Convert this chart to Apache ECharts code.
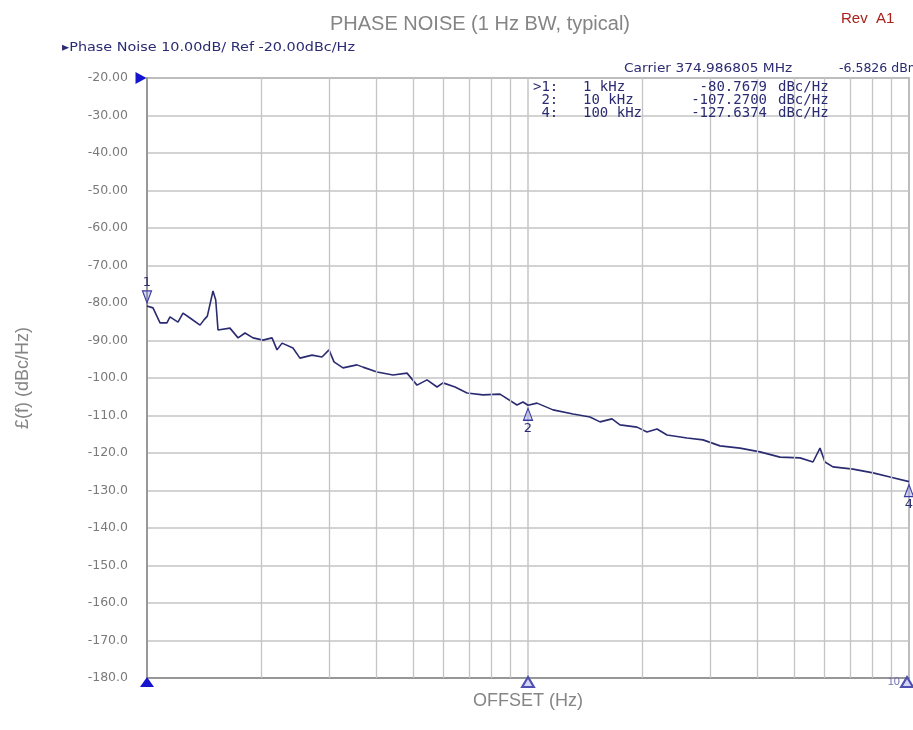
<!DOCTYPE html>
<html>
<head>
<meta charset="utf-8">
<title>Phase Noise</title>
<script src="https://cdn.jsdelivr.net/npm/echarts@6/dist/echarts.min.js"></script>
<style>
*{margin:0;padding:0;}
body{background:#fff;}
#chart{width:913px;height:730px;}
</style>
</head>
<body>
<div id="chart"></div>
<script>
var offsetHz = [1000, 1037, 1082, 1128, 1149, 1206, 1243, 1297, 1378, 1411, 1440, 1490, 1515, 1536,
  1651, 1734, 1808, 1898, 2016, 2129, 2194, 2262, 2416, 2520, 2711, 2879, 3004, 3096, 3269, 3557,
  3689, 4016, 4423, 4814, 5113, 5432, 5771, 5983, 6434, 6918, 7617, 8443, 9356, 9703, 10000,
  10559, 11632, 13127, 14544, 15453, 16613, 17435, 19323, 20527, 21807, 23170, 26146, 28800,
  31910, 36010, 40640, 45860, 51750, 55980, 58400, 60180, 63170, 71290, 80450, 89150, 100000];
var noise = [-80.77, -81.3, -85.3, -85.3, -83.7, -85.1, -82.7, -84.0, -85.9, -84.5, -83.5, -76.8, -79.2, -87.2,
  -86.7, -89.3, -88.0, -89.3, -89.9, -89.3, -92.5, -90.7, -92.0, -94.7, -93.9, -94.4, -92.5, -95.7, -97.3, -96.5,
  -97.1, -98.4, -99.2, -98.7, -101.9, -100.5, -102.4, -101.3, -102.4, -104.0, -104.5, -104.3, -107.2, -106.4, -107.27,
  -106.7, -108.5, -109.6, -110.4, -111.7, -110.9, -112.5, -113.1, -114.4, -113.6, -115.2, -116.0, -116.5,
  -118.1, -118.7, -119.7, -121.1, -121.3, -122.4, -118.7, -122.4, -123.7, -124.3, -125.3, -126.4, -127.64];

// markers shown on the trace
var markerNames = ['1', '2', '4'];
var markerHz = [1000, 10000, 100000];
var markerDb = [-80.7679, -107.2700, -127.6374];
var markerLabels = ['>1:', ' 2:', ' 4:'];
var markerFreqText = ['1 kHz', '10 kHz', '100 kHz'];

// minor grid lines of the log axis
var minorHz = [2000, 3000, 4000, 5000, 6000, 7000, 8000, 9000,
  20000, 30000, 40000, 50000, 60000, 70000, 80000, 90000];

var yTicks = {min: -180, max: -20, step: 10};

var navy = '#2b2b72';
var grey = '#7a7a7a';

var chart = echarts.init(document.getElementById('chart'));

var traceData = offsetHz.map(function (f, i) { return [f, noise[i]]; });

var markPts = [];
markerHz.forEach(function (f, i) {
  var first = i === 0;
  markPts.push({
    coord: [f, markerDb[i]],
    symbol: 'triangle',
    symbolSize: [9, 12],
    symbolRotate: first ? 180 : 0,
    symbolOffset: [0, first ? -9 : 9],
    itemStyle: {color: 'rgba(140,140,230,0.35)', borderColor: '#3a3aa0', borderWidth: 1.2},
    label: {show: true, formatter: markerNames[i], position: first ? 'top' : 'bottom',
      distance: 1, color: navy, fontSize: 13, fontFamily: 'DejaVu Sans'}
  });
});
// reference / scale indicators on the frame
markPts.push({coord: [1000, -20], symbol: 'triangle', symbolSize: [12, 11], symbolRotate: -90,
  symbolOffset: [-6, 0], itemStyle: {color: '#1515d0'}, label: {show: false}});
markPts.push({coord: [1000, -180], symbol: 'triangle', symbolSize: [14, 10],
  symbolOffset: [0, 4], itemStyle: {color: '#1515d0'}, label: {show: false}});
markPts.push({coord: [10000, -180], symbol: 'triangle', symbolSize: [12, 10],
  symbolOffset: [0, 4], itemStyle: {color: 'rgba(150,150,230,0.4)', borderColor: '#5050b0'}, label: {show: false}});
markPts.push({coord: [100000, -180], symbol: 'triangle', symbolSize: [12, 10],
  symbolOffset: [-2, 4], itemStyle: {color: 'rgba(150,150,230,0.4)', borderColor: '#5050b0'},
  label: {show: true, formatter: '10', position: 'left', distance: 0, color: '#7070b0', fontSize: 11}});

var graphics = [
  {type: 'text', left: 62, top: 41, z: 100, scaleX: 1.15, style: {text: '\u25B8Phase Noise 10.00dB/ Ref -20.00dBc/Hz',
    fill: navy, font: '12.5px "DejaVu Sans"'}},
  {type: 'text', left: 624, top: 62, z: 100, scaleX: 1.1, style: {text: 'Carrier 374.986805 MHz', fill: navy, font: '12.5px "DejaVu Sans"'}},
  {type: 'text', left: 839, top: 62, z: 100, style: {text: '-6.5826 dBm', fill: navy, font: '12.5px "DejaVu Sans"'}}
];
markerLabels.forEach(function (t, i) {
  var y = 80 + i * 13;
  var font = '14px "DejaVu Sans Mono"';
  graphics.push({type: 'text', left: 533, top: y, z: 100, style: {text: t, fill: navy, font: font}});
  graphics.push({type: 'text', left: 583, top: y, z: 100, style: {text: markerFreqText[i], fill: navy, font: font}});
  graphics.push({type: 'text', right: 146, top: y, z: 100, style: {text: markerDb[i].toFixed(4), fill: navy, font: font}});
  graphics.push({type: 'text', left: 778, top: y, z: 100, style: {text: 'dBc/Hz', fill: navy, font: font}});
});

var option = {
  animation: false,
  backgroundColor: '#fff',
  title: [
    {text: 'PHASE NOISE (1 Hz BW, typical)', left: 475, top: 9, textAlign: 'center',
      textStyle: {color: '#858585', fontSize: 20, fontWeight: 'normal', fontFamily: 'Liberation Sans'}},
    {text: 'Rev  A1', left: 836, top: 6,
      textStyle: {color: '#a8201a', fontSize: 15, fontWeight: 'normal', fontFamily: 'Liberation Sans'}}
  ],
  grid: {left: 147, right: 4, top: 78, bottom: 52, show: true, borderColor: '#8a8a8a', borderWidth: 1.5},
  xAxis: {
    type: 'log', logBase: 10, min: 1000, max: 100000,
    name: 'OFFSET (Hz)', nameLocation: 'middle', nameGap: 14,
    nameTextStyle: {color: '#858585', fontSize: 18, fontFamily: 'Liberation Sans'},
    axisLine: {show: true, lineStyle: {color: '#8a8a8a', width: 1.5}},
    axisTick: {show: false},
    axisLabel: {show: false},
    splitLine: {show: true, lineStyle: {color: '#c4c4c4', width: 1.5}}
  },
  yAxis: {
    type: 'value', min: yTicks.min, max: yTicks.max, interval: yTicks.step,
    name: '\u00A3(f) (dBc/Hz)', nameLocation: 'middle', nameGap: 115, nameRotate: 90,
    nameTextStyle: {color: '#858585', fontSize: 18, fontFamily: 'Liberation Sans'},
    axisLine: {show: true, lineStyle: {color: '#8a8a8a', width: 1.5}},
    axisTick: {show: false},
    axisLabel: {
      margin: 19, color: grey, fontSize: 12.5, fontFamily: 'DejaVu Sans',
      formatter: function (v) { return v >= -90 ? v.toFixed(2) : v.toFixed(1); }
    },
    splitLine: {show: true, lineStyle: {color: '#c4c4c4', width: 1.5}}
  },
  graphic: graphics,
  series: [{
    type: 'line',
    data: traceData,
    showSymbol: false,
    lineStyle: {color: navy, width: 1.6},
    z: 3,
    markLine: {
      silent: true, symbol: 'none', animation: false,
      label: {show: false},
      lineStyle: {color: '#c4c4c4', width: 1.3, type: 'solid'},
      data: minorHz.map(function (f) { return {xAxis: f}; })
    },
    markPoint: {
      silent: true, animation: false,
      data: markPts
    }
  }]
};
chart.setOption(option);
</script>
</body>
</html>
